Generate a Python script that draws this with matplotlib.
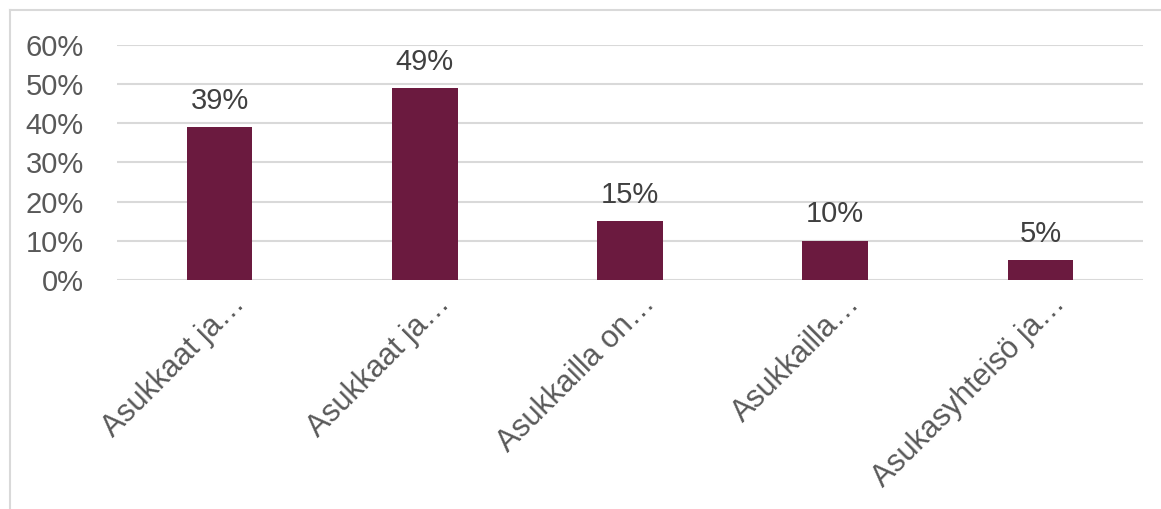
import matplotlib
matplotlib.use("Agg")
from matplotlib import pyplot as plt
from matplotlib.lines import Line2D
from matplotlib.transforms import ScaledTranslation

categories = ["Asukkaat ja…", "Asukkaat ja…", "Asukkailla on…", "Asukkailla…", "Asukasyhteisö ja…"]
values = [39, 49, 15, 10, 5]
yticks = [0, 10, 20, 30, 40, 50, 60]
ytick_labels = ["0%", "10%", "20%", "30%", "40%", "50%", "60%"]

plt.rcParams["font.family"] = ["Liberation Sans", "DejaVu Sans"]

fig = plt.figure(figsize=(11.61, 5.09), dpi=100)
ax = fig.add_axes([0.1008, 0.4499, 0.8837, 0.4617])

x = list(range(len(categories)))
bars = ax.bar(x, values, width=0.32, color="#6B1A3F", zorder=3)

for b, v in zip(bars, values):
    ax.annotate(f"{v}%", (b.get_x() + b.get_width() / 2, v),
                xytext=(0, 9), textcoords="offset points",
                ha="center", va="bottom", fontsize=21, color="#404040")

ax.set_xlim(-0.5, len(categories) - 0.5)
ax.set_ylim(0, 60)
ax.set_yticks(yticks)
ax.set_yticklabels(ytick_labels, fontsize=21, color="#595959")
ax.set_xticks(x)
ax.set_xticklabels(categories, rotation=45, ha="right", rotation_mode="anchor",
                   fontsize=22, color="#595959")
ax.tick_params(axis="both", length=0)
ax.tick_params(axis="y", pad=24)
ax.tick_params(axis="x", pad=6)
shift = ScaledTranslation(10 / 100, 0, fig.dpi_scale_trans)
for lbl in ax.get_xticklabels():
    lbl.set_transform(lbl.get_transform() + shift)
ax.yaxis.grid(True, color="#D9D9D9", linewidth=1.5, zorder=0)
for s in ax.spines.values():
    s.set_visible(False)

# chart frame edges (top and left visible)
fig.add_artist(Line2D([10 / 1161, 10 / 1161], [0, 1 - 10 / 509], color="#D9D9D9", lw=1.5))
fig.add_artist(Line2D([10 / 1161, 1], [1 - 10 / 509, 1 - 10 / 509], color="#D9D9D9", lw=1.5))

fig.savefig("out.png", dpi=100)
